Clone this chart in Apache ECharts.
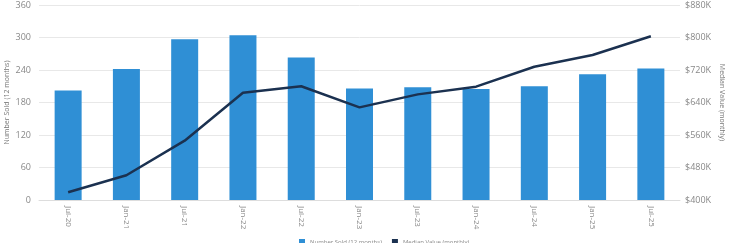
<!DOCTYPE html>
<html><head><meta charset="utf-8">
<script src="https://cdn.jsdelivr.net/npm/echarts@6/dist/echarts.min.js"></script>
<style>html,body{margin:0;padding:0;background:#fff}#c{width:729px;height:243px}</style>
</head><body><div id="c"></div>
<script>
const categories = ['Jul-20','Jan-21','Jul-21','Jan-22','Jul-22','Jan-23','Jul-23','Jan-24','Jul-24','Jan-25','Jul-25'];
const numberSold = [202, 242, 297, 304, 263, 206, 208, 205, 210, 232, 243];
const medianValue = [419, 461, 546, 664, 680, 628, 660, 679, 728, 757, 803];
const leftTicks = {min: 0, max: 360, interval: 60};
const rightTicks = {min: 400, max: 880, interval: 80};

const chart = echarts.init(document.getElementById('c'));
const font = 'Open Sans';
chart.setOption({
  animation: false,
  textStyle: {fontFamily: font},
  grid: {left: 39, right: 49, top: 5, bottom: 43, containLabel: false, outerBoundsMode: 'none'},
  legend: {
    bottom: -7, left: 294, itemWidth: 6, itemHeight: 6, itemGap: 10,
    textStyle: {fontSize: 6, color: '#888', fontFamily: font},
    data: [{name: 'Number Sold (12 months)', icon: 'rect'}, {name: 'Median Value (monthly)', icon: 'rect'}]
  },
  xAxis: {
    type: 'category', data: categories,
    axisLine: {lineStyle: {color: '#ddd'}},
    axisTick: {show: false},
    axisLabel: {rotate: -90, fontSize: 8, color: '#888', margin: 6, interval: 0}
  },
  yAxis: [{
    type: 'value', min: leftTicks.min, max: leftTicks.max, interval: leftTicks.interval,
    name: 'Number Sold (12 months)', nameLocation: 'middle', nameGap: 29, nameMoveOverlap: false,
    nameTextStyle: {fontSize: 7, color: '#777'},
    axisLabel: {fontSize: 9, color: '#888', margin: 8},
    axisLine: {show: false}, axisTick: {show: false},
    splitLine: {lineStyle: {color: '#e8e8e8'}}
  }, {
    type: 'value', position: 'right', min: rightTicks.min, max: rightTicks.max, interval: rightTicks.interval,
    name: 'Median Value (monthly)', nameLocation: 'middle', nameGap: 38, nameRotate: -90, nameMoveOverlap: false,
    nameTextStyle: {fontSize: 7, color: '#777'},
    axisLabel: {fontSize: 9, color: '#888', margin: 5, formatter: v => '$' + v + 'K'},
    axisLine: {show: false}, axisTick: {show: false},
    splitLine: {show: false}
  }],
  series: [{
    name: 'Number Sold (12 months)', type: 'bar', data: numberSold, barWidth: 27,
    itemStyle: {color: '#2f8fd5'}
  }, {
    name: 'Median Value (monthly)', type: 'line', yAxisIndex: 1, data: medianValue,
    symbol: 'none', lineStyle: {color: '#1b3150', width: 2.5}, itemStyle: {color: '#1b3150'}
  }]
});
</script></body></html>
